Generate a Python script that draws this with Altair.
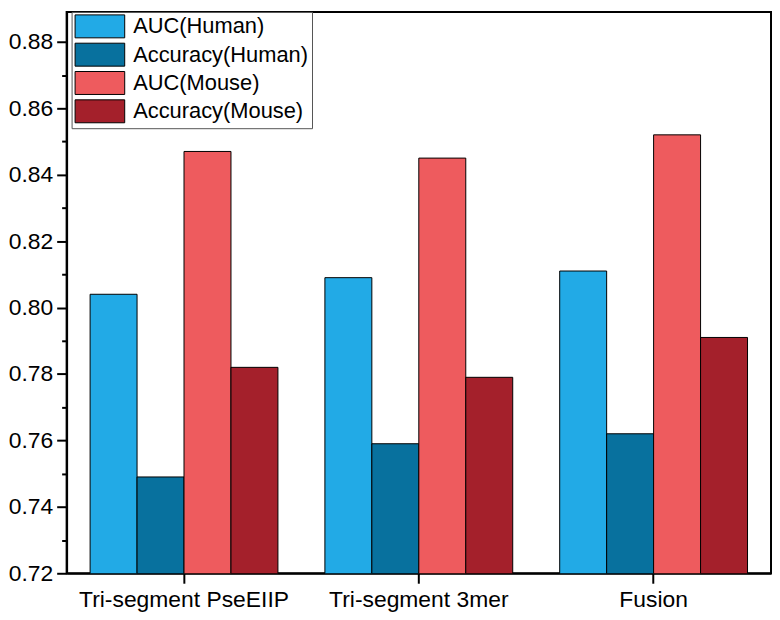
import altair as alt
import pandas as pd

categories = ["Tri-segment PseEIIP", "Tri-segment 3mer", "Fusion"]
series = ["AUC(Human)", "Accuracy(Human)", "AUC(Mouse)", "Accuracy(Mouse)"]
auc_human = [0.804, 0.809, 0.811]
acc_human = [0.749, 0.759, 0.762]
auc_mouse = [0.847, 0.845, 0.852]
acc_mouse = [0.782, 0.779, 0.791]
colors = ["#22AAE6", "#08719E", "#EE5B5E", "#A4202B"]
y_ticks = [0.72, 0.73, 0.74, 0.75, 0.76, 0.77, 0.78, 0.79, 0.80,
           0.81, 0.82, 0.83, 0.84, 0.85, 0.86, 0.87, 0.88]

rows = []
for s, vals in zip(series, [auc_human, acc_human, auc_mouse, acc_mouse]):
    for c, v in zip(categories, vals):
        rows.append({"category": c, "series": s, "value": v})
df = pd.DataFrame(rows)

even = "round(datum.value*100) % 2 == 0"

chart = alt.Chart(df).mark_bar(stroke="black", strokeWidth=1, clip=True).encode(
    x=alt.X("category:N", sort=categories, title=None,
            scale=alt.Scale(paddingInner=0.2, paddingOuter=0.1),
            axis=alt.Axis(labelAngle=0, labelFontSize=23, tickSize=10,
                          labelPadding=5, labelLimit=400)),
    xOffset=alt.XOffset("series:N", sort=series, scale=alt.Scale(paddingInner=0, paddingOuter=0)),
    y=alt.Y("value:Q", title=None,
            scale=alt.Scale(domain=[0.72, 0.889], zero=False, nice=False),
            axis=alt.Axis(values=y_ticks, labelFontSize=23, labelPadding=4,
                          labelExpr=f"{even} ? format(datum.value, '.2f') : ''",
                          tickSize={"condition": {"test": even, "value": 10}, "value": 5})),
    color=alt.Color("series:N", sort=series,
                    scale=alt.Scale(domain=series, range=colors),
                    legend=alt.Legend(title=None, orient="none", legendX=5, legendY=0,
                                      symbolType="M-2.27,-1.05L2.27,-1.05L2.27,1.05L-2.27,1.05Z",
                                      symbolSize=484, symbolStrokeColor="black",
                                      symbolStrokeWidth=1, symbolOpacity=1,
                                      symbolOffset=14, labelOffset=22,
                                      labelFontSize=22, labelLimit=400,
                                      labelFont="Liberation Sans", labelColor="black",
                                      padding=3, rowPadding=-0.5,
                                      strokeColor="#555555", fillColor="white")),
).properties(
    width=709, height=565, padding={"left": 0, "top": 1, "right": 1, "bottom": 0}
).configure_view(
    stroke="black", strokeWidth=2
).configure_axis(
    grid=False, domainColor="black", domainWidth=2, tickColor="black", tickWidth=2,
    labelColor="black", labelFont="Liberation Sans"
)

chart.save("out.html", embed_options={"renderer": "svg", "actions": False})
